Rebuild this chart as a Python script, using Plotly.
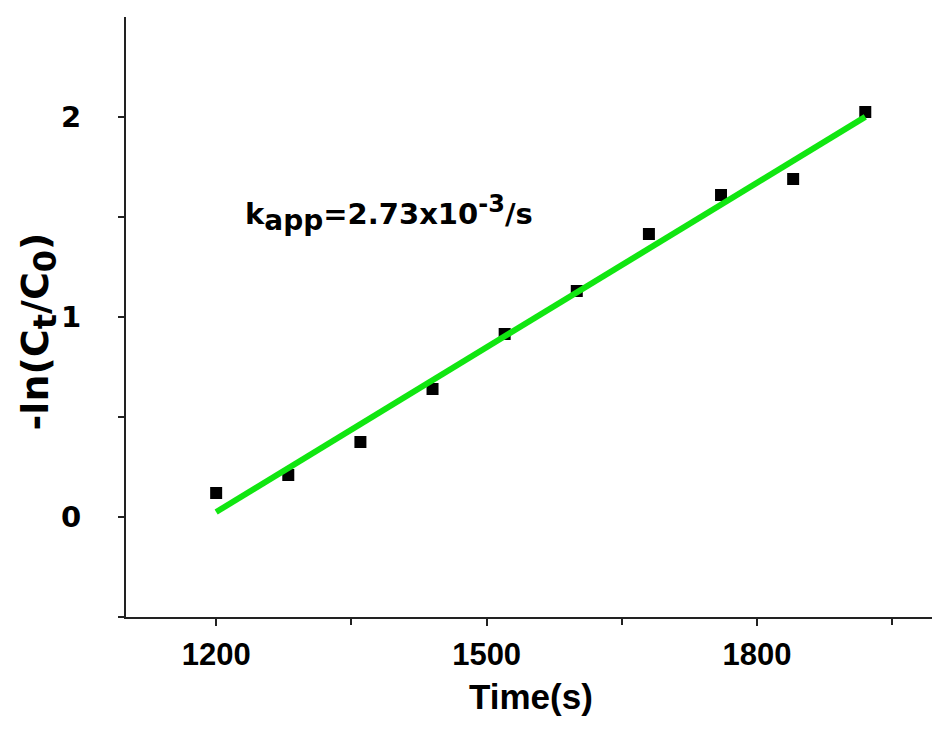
import numpy as np
import plotly.graph_objects as go

time_s = [1200, 1280, 1360, 1440, 1520, 1600, 1680, 1760, 1840, 1920]
neg_ln_ratio = [0.12, 0.21, 0.375, 0.64, 0.915, 1.13, 1.415, 1.61, 1.69, 2.025]
x_tickvals = [1200, 1500, 1800]
x_minor = [1350, 1650, 1950]
y_tickvals = [0, 1, 2]
y_minor = [-0.5, 0.5, 1.5]

slope, intercept = np.polyfit(time_s, neg_ln_ratio, 1)
fit_x = [time_s[0], time_s[-1]]
fit_y = [slope * t + intercept for t in fit_x]

FONT = "Liberation Sans, Arial, sans-serif"
WIDE = "DejaVu Sans, Verdana, sans-serif"

fig = go.Figure()
fig.add_trace(go.Scatter(
    x=time_s, y=neg_ln_ratio, mode="markers",
    marker=dict(symbol="square", size=12, color="black", line=dict(width=0)),
    showlegend=False))
fig.add_trace(go.Scatter(
    x=fit_x, y=fit_y, mode="lines",
    line=dict(color="#11e611", width=6),
    showlegend=False))

fig.update_layout(
    width=932, height=731,
    margin=dict(l=126, r=0, t=17, b=114),
    plot_bgcolor="white", paper_bgcolor="white",
    font=dict(family=FONT, color="black"),
    xaxis=dict(
        range=[1100, 1994], showgrid=False, zeroline=False,
        showline=True, linecolor="#222", linewidth=2,
        ticks="outside", ticklen=7, tickwidth=2, tickcolor="#222",
        tickvals=x_tickvals, ticktext=["<b>%d</b>" % v for v in x_tickvals],
        tickfont=dict(family=FONT, size=31, color="black"),
        ticklabelstandoff=2,
        minor=dict(tickvals=x_minor, ticks="outside", ticklen=6,
                   tickwidth=2, tickcolor="#222", showgrid=False),
    ),
    yaxis=dict(
        range=[-0.5, 2.5], showgrid=False, zeroline=False,
        showline=True, linecolor="#222", linewidth=2,
        ticks="outside", ticklen=6, tickwidth=2, tickcolor="#222",
        tickvals=y_tickvals, ticktext=["<b>%d</b>" % v for v in y_tickvals],
        tickfont=dict(family=WIDE, size=29, color="black"),
        ticklabelstandoff=31,
        minor=dict(tickvals=y_minor, ticks="outside", ticklen=6,
                   tickwidth=2, tickcolor="#222", showgrid=False),
    ),
)

fig.add_annotation(
    xref="paper", yref="paper", x=0.5025, y=0, yshift=-79,
    xanchor="center", yanchor="middle", showarrow=False,
    text="<b>Time(s)</b>", font=dict(family=FONT, size=35, color="black"))
fig.add_annotation(
    xref="paper", yref="paper", x=0, xshift=-88, y=0.476,
    xanchor="center", yanchor="middle", showarrow=False, textangle=-90,
    text=("<b>-ln(C<sub><span style='font-size:32px'>t</span></sub>"
          "/C<sub><span style='font-size:32px'>0</span></sub>)</b>"),
    font=dict(family=WIDE, size=38, color="black"))
fig.add_annotation(
    xref="x", yref="y", x=1230, y=1.52,
    xanchor="left", yanchor="middle", showarrow=False,
    text=("<b>k<sub><span style='font-size:28px'>app</span></sub>"
          "=2.73x10<sup><span style='font-size:24px'>-3</span></sup>/s</b>"),
    font=dict(family=WIDE, size=29, color="black"))

fig.write_html("out.html")
